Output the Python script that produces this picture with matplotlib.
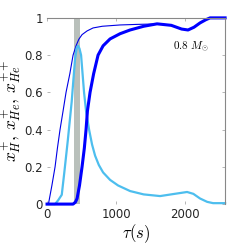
import numpy as np
import matplotlib.pyplot as plt

plt.rcParams['mathtext.fontset'] = 'cm'

#####################################################################
# data (tau in s, ionisation fractions)
#####################################################################
t_h = [0, 20, 70, 116, 150, 188, 232, 275, 330, 377, 420, 460, 507, 580,
       667, 800, 1058, 1300, 1638, 1800, 1950, 2043, 2130, 2217, 2300,
       2362, 2580]
x_h = [0, 0.0, 0.1, 0.2, 0.3, 0.4, 0.5, 0.6, 0.7, 0.8, 0.85, 0.885,
       0.91, 0.93, 0.946, 0.955, 0.962, 0.965, 0.968, 0.96, 0.94, 0.935,
       0.95, 0.973, 0.99, 1.0, 1.0]

t_he1 = [0, 116, 160, 213, 250, 300, 357, 380, 406, 430, 450, 470, 493,
         536, 565, 609, 652, 696, 750, 812, 913, 1029, 1203, 1400, 1638,
         1850, 2029, 2120, 2217, 2320, 2406, 2580]
x_he1 = [0, 0, 0.02, 0.05, 0.17, 0.34, 0.55, 0.66, 0.78, 0.84, 0.85,
         0.835, 0.8, 0.6, 0.5, 0.4, 0.32, 0.26, 0.21, 0.17, 0.13, 0.10,
         0.07, 0.052, 0.043, 0.055, 0.065, 0.055, 0.03, 0.012, 0.005, 0.005]

t_he2 = [0, 377, 410, 435, 470, 507, 540, 565, 585, 623, 675, 739, 812,
         913, 1058, 1203, 1400, 1594, 1800, 1950, 2043, 2130, 2217, 2300,
         2362, 2580]
x_he2 = [0, 0, 0.01, 0.03, 0.1, 0.2, 0.3, 0.4, 0.5, 0.6, 0.7, 0.8, 0.85,
         0.887, 0.915, 0.935, 0.955, 0.968, 0.96, 0.94, 0.935, 0.95, 0.973,
         0.99, 1.0, 1.0]

band = [390, 475]   # grey shaded interval
label_mass = r'$0.8\ M_{\odot}$'

#####################################################################
# plotting
#####################################################################
fig = plt.figure(figsize=(2.49, 2.45), dpi=100)
ax = fig.add_axes([0.189, 0.167, 0.715, 0.76])

ax.axvspan(band[0], band[1], color='#b9c0bb', lw=0)
ax.plot(t_h, x_h, color='#0000e6', lw=0.8, clip_on=False)
ax.plot(t_he1, x_he1, color='#4dbeee', lw=1.6, clip_on=False)
ax.plot(t_he2, x_he2, color='#0000ff', lw=2.2, clip_on=False)

ax.text(2087, 0.845, label_mass, fontsize=8, ha='center', va='center')

ax.set_xlim(0, 2580)
ax.set_ylim(0, 1)
ax.set_xticks([0, 1000, 2000])
ax.set_yticks([0, 0.2, 0.4, 0.6, 0.8, 1])
ax.set_yticklabels(['0', '0.2', '0.4', '0.6', '0.8', '1'])
ax.tick_params(direction='in', length=2, width=0.6, color='#aaaaaa',
               labelsize=8.5, labelcolor='#262626', top=True, right=True,
               pad=3)
for s in ['left', 'bottom']:
    ax.spines[s].set_visible(False)
for s in ['top', 'right']:
    ax.spines[s].set_color('#888888')
    ax.spines[s].set_linewidth(0.8)

ax.set_xlabel(r'$\tau(s)$', fontsize=12, labelpad=1)
ax.set_ylabel(r'$x_{H}^{+},\, x_{He}^{+},\, x_{He}^{++}$', fontsize=12.5,
              labelpad=1)

plt.savefig('out.png', dpi=100)
